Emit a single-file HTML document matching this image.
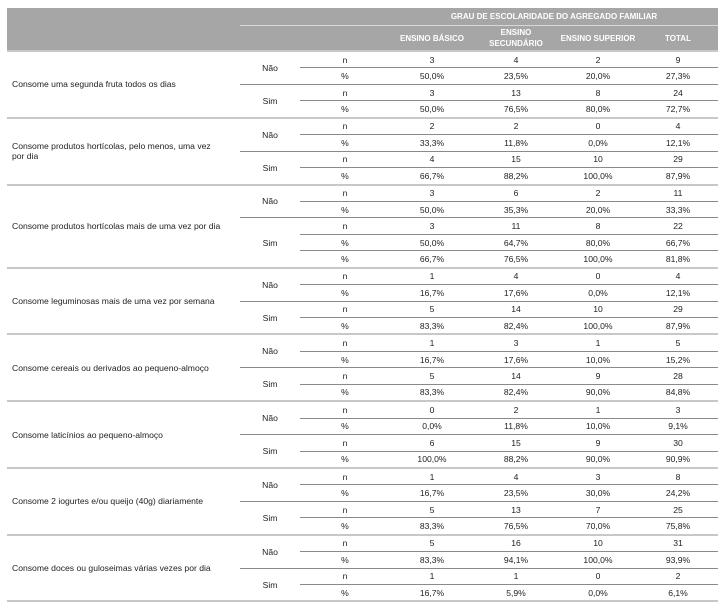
<!DOCTYPE html>
<html><head><meta charset="utf-8"><style>
html,body{margin:0;padding:0;background:#fff;width:726px;height:608px;overflow:hidden}
table{position:absolute;left:7px;top:8px;border-collapse:collapse;table-layout:fixed;font-family:"Liberation Sans",Arial,sans-serif;font-size:8.6px;color:#222}
td{padding:0;text-align:center;vertical-align:middle;white-space:nowrap;overflow:hidden}
tr.b td{height:15.45px;line-height:10px}
thead td{background:#a6a6a6;color:#fff;font-weight:bold;font-size:8px}
tr.h1 td{height:17px}
tr.h2 td{height:24px;line-height:11px}
tr.h1 td.sp{border-bottom:1px solid #d8d8d8}
td.lab{text-align:left;padding-left:5px;line-height:12px}
tr.b td.c{border-top:1px solid #8a8a8a}
tr.g td{border-top:2px solid #c8c8c8 !important}
tbody{border-bottom:2px solid #c8c8c8}
</style></head><body>
<table>
<colgroup><col style="width:233px"><col style="width:60px"><col style="width:90px"><col style="width:84px"><col style="width:84px"><col style="width:80px"><col style="width:80px"></colgroup>
<thead>
<tr class="h1"><td></td><td class="sp"></td><td class="sp"></td><td class="sp" colspan="4">GRAU DE ESCOLARIDADE DO AGREGADO FAMILIAR</td></tr>
<tr class="h2"><td></td><td></td><td></td><td>ENSINO BÁSICO</td><td>ENSINO<br>SECUNDÁRIO</td><td>ENSINO SUPERIOR</td><td>TOTAL</td></tr>
</thead>
<tbody>
<tr class="b g"><td class="lab" rowspan="4">Consome uma segunda fruta todos os dias</td><td rowspan="2">Não</td><td>n</td><td>3</td><td>4</td><td>2</td><td>9</td></tr>
<tr class="b"><td class="c">%</td><td class="c">50,0%</td><td class="c">23,5%</td><td class="c">20,0%</td><td class="c">27,3%</td></tr>
<tr class="b"><td class="c" rowspan="2">Sim</td><td class="c">n</td><td class="c">3</td><td class="c">13</td><td class="c">8</td><td class="c">24</td></tr>
<tr class="b"><td class="c">%</td><td class="c">50,0%</td><td class="c">76,5%</td><td class="c">80,0%</td><td class="c">72,7%</td></tr>

<tr class="b g"><td class="lab" rowspan="4">Consome produtos hortícolas, pelo menos, uma vez<br>por dia</td><td rowspan="2">Não</td><td>n</td><td>2</td><td>2</td><td>0</td><td>4</td></tr>
<tr class="b"><td class="c">%</td><td class="c">33,3%</td><td class="c">11,8%</td><td class="c">0,0%</td><td class="c">12,1%</td></tr>
<tr class="b"><td class="c" rowspan="2">Sim</td><td class="c">n</td><td class="c">4</td><td class="c">15</td><td class="c">10</td><td class="c">29</td></tr>
<tr class="b"><td class="c">%</td><td class="c">66,7%</td><td class="c">88,2%</td><td class="c">100,0%</td><td class="c">87,9%</td></tr>

<tr class="b g"><td class="lab" rowspan="5">Consome produtos hortícolas mais de uma vez por dia</td><td rowspan="2">Não</td><td>n</td><td>3</td><td>6</td><td>2</td><td>11</td></tr>
<tr class="b"><td class="c">%</td><td class="c">50,0%</td><td class="c">35,3%</td><td class="c">20,0%</td><td class="c">33,3%</td></tr>
<tr class="b"><td class="c" rowspan="3">Sim</td><td class="c">n</td><td class="c">3</td><td class="c">11</td><td class="c">8</td><td class="c">22</td></tr>
<tr class="b"><td class="c">%</td><td class="c">50,0%</td><td class="c">64,7%</td><td class="c">80,0%</td><td class="c">66,7%</td></tr>
<tr class="b"><td class="c">%</td><td class="c">66,7%</td><td class="c">76,5%</td><td class="c">100,0%</td><td class="c">81,8%</td></tr>

<tr class="b g"><td class="lab" rowspan="4">Consome leguminosas mais de uma vez por semana</td><td rowspan="2">Não</td><td>n</td><td>1</td><td>4</td><td>0</td><td>4</td></tr>
<tr class="b"><td class="c">%</td><td class="c">16,7%</td><td class="c">17,6%</td><td class="c">0,0%</td><td class="c">12,1%</td></tr>
<tr class="b"><td class="c" rowspan="2">Sim</td><td class="c">n</td><td class="c">5</td><td class="c">14</td><td class="c">10</td><td class="c">29</td></tr>
<tr class="b"><td class="c">%</td><td class="c">83,3%</td><td class="c">82,4%</td><td class="c">100,0%</td><td class="c">87,9%</td></tr>

<tr class="b g"><td class="lab" rowspan="4">Consome cereais ou derivados ao pequeno-almoço</td><td rowspan="2">Não</td><td>n</td><td>1</td><td>3</td><td>1</td><td>5</td></tr>
<tr class="b"><td class="c">%</td><td class="c">16,7%</td><td class="c">17,6%</td><td class="c">10,0%</td><td class="c">15,2%</td></tr>
<tr class="b"><td class="c" rowspan="2">Sim</td><td class="c">n</td><td class="c">5</td><td class="c">14</td><td class="c">9</td><td class="c">28</td></tr>
<tr class="b"><td class="c">%</td><td class="c">83,3%</td><td class="c">82,4%</td><td class="c">90,0%</td><td class="c">84,8%</td></tr>

<tr class="b g"><td class="lab" rowspan="4">Consome laticínios ao pequeno-almoço</td><td rowspan="2">Não</td><td>n</td><td>0</td><td>2</td><td>1</td><td>3</td></tr>
<tr class="b"><td class="c">%</td><td class="c">0,0%</td><td class="c">11,8%</td><td class="c">10,0%</td><td class="c">9,1%</td></tr>
<tr class="b"><td class="c" rowspan="2">Sim</td><td class="c">n</td><td class="c">6</td><td class="c">15</td><td class="c">9</td><td class="c">30</td></tr>
<tr class="b"><td class="c">%</td><td class="c">100,0%</td><td class="c">88,2%</td><td class="c">90,0%</td><td class="c">90,9%</td></tr>

<tr class="b g"><td class="lab" rowspan="4">Consome 2 iogurtes e/ou queijo (40g) diariamente</td><td rowspan="2">Não</td><td>n</td><td>1</td><td>4</td><td>3</td><td>8</td></tr>
<tr class="b"><td class="c">%</td><td class="c">16,7%</td><td class="c">23,5%</td><td class="c">30,0%</td><td class="c">24,2%</td></tr>
<tr class="b"><td class="c" rowspan="2">Sim</td><td class="c">n</td><td class="c">5</td><td class="c">13</td><td class="c">7</td><td class="c">25</td></tr>
<tr class="b"><td class="c">%</td><td class="c">83,3%</td><td class="c">76,5%</td><td class="c">70,0%</td><td class="c">75,8%</td></tr>

<tr class="b g"><td class="lab" rowspan="4">Consome doces ou guloseimas várias vezes por dia</td><td rowspan="2">Não</td><td>n</td><td>5</td><td>16</td><td>10</td><td>31</td></tr>
<tr class="b"><td class="c">%</td><td class="c">83,3%</td><td class="c">94,1%</td><td class="c">100,0%</td><td class="c">93,9%</td></tr>
<tr class="b"><td class="c" rowspan="2">Sim</td><td class="c">n</td><td class="c">1</td><td class="c">1</td><td class="c">0</td><td class="c">2</td></tr>
<tr class="b"><td class="c">%</td><td class="c">16,7%</td><td class="c">5,9%</td><td class="c">0,0%</td><td class="c">6,1%</td></tr>
</tbody>
</table>
</body></html>
